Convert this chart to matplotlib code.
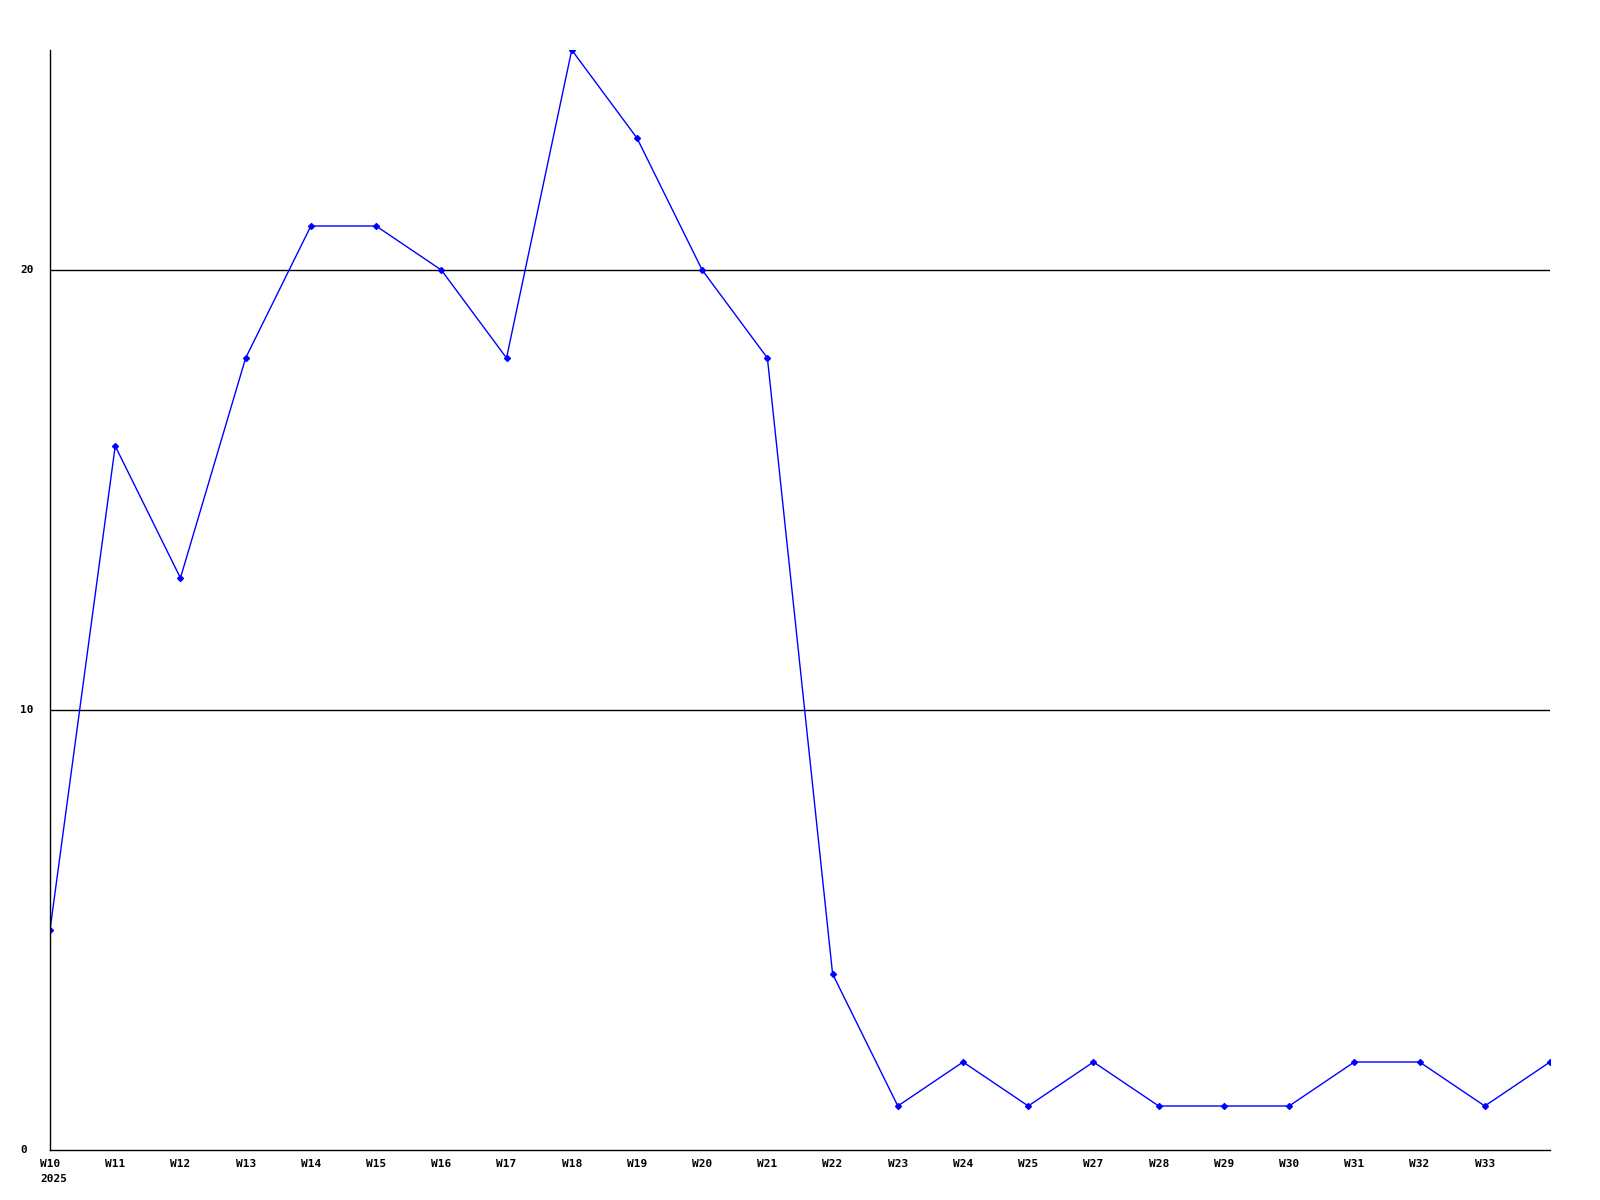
import matplotlib
matplotlib.use("Agg")
import matplotlib.pyplot as plt

weeks = ["W10", "W11", "W12", "W13", "W14", "W15", "W16", "W17", "W18", "W19", "W20",
         "W21", "W22", "W23", "W24", "W25", "W27", "W28", "W29", "W30", "W31", "W32", "W33", ""]
values = [5, 16, 13, 18, 21, 21, 20, 18, 25, 23, 20, 18, 4, 1, 2, 1, 2, 1, 1, 1, 2, 2, 1, 2]
y_ticks = [0, 10, 20]

fig = plt.figure(figsize=(16, 12), dpi=100)
ax = fig.add_axes([50/1600, 1 - 1150/1200, 1500/1600, 1100/1200])

x = list(range(len(values)))
for yt in y_ticks[1:]:
    ax.axhline(yt, color="black", linewidth=1)
ax.plot(x, values, color="#0000ff", linewidth=1, marker="D", markersize=3)

ax.set_xlim(0, len(values) - 1)
ax.set_ylim(0, 25)
for s in ["top", "right"]:
    ax.spines[s].set_visible(False)
for s in ["left", "bottom"]:
    ax.spines[s].set_linewidth(1)
ax.tick_params(length=0)
ax.set_xticks([])
ax.set_yticks([])

font = dict(family="DejaVu Sans Mono", weight="bold", fontsize=8)
for i, w in enumerate(weeks):
    if w:
        ax.text(i, -0.2, w, ha="center", va="top", **font, transform=ax.transData)
ax.text(0 - 0.15, -0.55, "2025", ha="left", va="top", **font)
for yt in y_ticks:
    fig.text(20/1600, 1 - (1150 - yt * 44) / 1200, str(yt), ha="left", va="center", **font)

ax.set_clip_on(False)
fig.savefig("out.png", dpi=100, facecolor="white")
